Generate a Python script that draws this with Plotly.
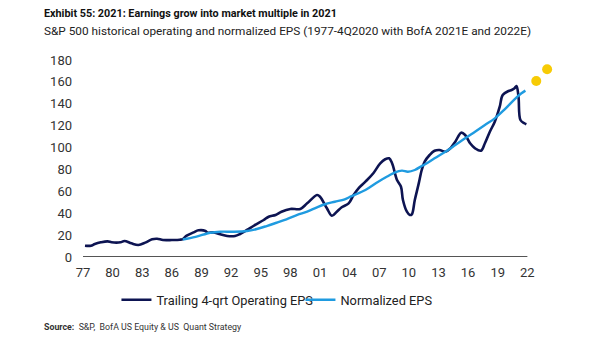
import plotly.graph_objects as go

# ---- data (x in axis-label years, values in EPS $) ----
op_x = [1977.2, 1977.8, 1978.2, 1978.8, 1979.5, 1979.9, 1980.8, 1981.2, 1981.9, 1982.6,
        1983.3, 1984.0, 1984.5, 1985.1, 1986.0, 1986.8, 1987.1, 1987.5, 1988.2, 1988.7,
        1989.4, 1989.6, 1990.2, 1990.9, 1991.6, 1992.4, 1992.9, 1993.6, 1994.4, 1995.3,
        1995.8, 1996.5, 1997.1, 1998.0, 1999.0, 1999.7, 2000.7, 2001.0, 2001.7, 2002.2,
        2002.7, 2003.2, 2003.9, 2004.4, 2004.9, 2005.6, 2006.4, 2007.1, 2007.6, 2008.0,
        2008.3, 2008.8, 2009.2, 2009.4, 2009.8, 2010.1, 2010.3, 2010.6, 2011.0, 2011.3,
        2011.6, 2012.1, 2012.6, 2013.1, 2013.7, 2014.2, 2014.7, 2015.3, 2015.7, 2016.2,
        2016.7, 2017.3, 2017.7, 2018.2, 2018.7, 2019.2, 2019.5, 2020.1, 2020.4, 2020.7,
        2020.9, 2021.1, 2021.3, 2021.7, 2021.9]
op_eps = [10.3, 10.3, 11.9, 13.4, 14.3, 13.4, 13.4, 14.6, 12.5, 11.0,
          13.1, 16.2, 16.7, 15.5, 15.5, 15.8, 16.4, 19.5, 22.5, 24.4,
          23.8, 22.2, 22.5, 20.7, 19.2, 19.2, 21.0, 24.7, 29.2, 33.8,
          36.8, 38.4, 41.4, 43.9, 43.9, 49.0, 56.6, 55.1, 44.5, 37.7,
          41.4, 45.4, 49.0, 56.6, 62.7, 68.8, 76.5, 85.6, 89.3, 90.2,
          85.6, 70.4, 64.2, 52.1, 41.4, 38.4, 39.0, 52.1, 67.3, 79.5,
          87.1, 93.2, 97.1, 97.8, 96.2, 99.3, 105.4, 113.6, 111.5, 103.9,
          99.3, 97.1, 103.9, 114.5, 123.6, 137.3, 148.0, 151.7, 152.6, 154.2,
          156.2, 146.5, 125.2, 122.2, 121.3]

norm_x = [1987.1, 1988.4, 1989.9, 1990.9, 1992.2, 1993.6, 1994.6, 1995.6, 1996.6, 1997.6,
          1998.7, 1999.7, 2000.7, 2001.5, 2002.5, 2003.5, 2004.2, 2005.6, 2006.9, 2007.9,
          2008.6, 2009.3, 2009.9, 2010.6, 2011.3, 2011.6, 2012.6, 2013.7, 2014.7, 2015.7,
          2016.7, 2017.7, 2018.7, 2019.7, 2020.7, 2021.4, 2021.8]
norm_eps = [16.0, 18.4, 22.2, 23.1, 23.1, 23.8, 25.6, 28.3, 31.3, 34.4,
            38.4, 41.4, 45.4, 48.2, 50.5, 52.7, 55.7, 61.2, 68.8, 74.0,
            77.4, 78.9, 77.9, 79.5, 83.1, 84.5, 90.2, 96.2, 102.3, 108.5,
            114.5, 120.6, 126.7, 134.9, 144.1, 149.6, 152.0]

est_x = [2022.9, 2024.0]
est_eps = [160.8, 171.5]

tick_years = list(range(1977, 2023, 3))
tick_text = ["77", "80", "83", "86", "89", "92", "95", "98", "01", "04",
             "07", "10", "13", "16", "19", "22"]
y_ticks = list(range(0, 181, 20))

X_RANGE = [1977, 2025]
W, H = 605, 341
L, T, B = 82.5, 60, 84
R = W - (L + (X_RANGE[1] - X_RANGE[0]) * 9.89)
FONT = "Roboto, Arial, sans-serif"
pw, ph = W - L - R, H - T - B


def px(x):
    return (x - L) / pw


def py(y):
    return (H - B - y) / ph


fig = go.Figure()
fig.add_trace(go.Scatter(x=op_x, y=op_eps, mode="lines", name="Trailing 4-qrt Operating EPS",
                         line=dict(color="#0D1452", width=2.6), line_shape="spline"))
fig.add_trace(go.Scatter(x=norm_x, y=norm_eps, mode="lines", name="Normalized EPS",
                         line=dict(color="#1F9BE0", width=2.4), line_shape="spline"))
fig.add_trace(go.Scatter(x=est_x, y=est_eps, mode="markers", showlegend=False,
                         marker=dict(color="#F7CB05", size=10)))

# x axis baseline spanning the labelled years only
fig.add_shape(type="line", xref="x", yref="y", x0=tick_years[0], x1=tick_years[-1],
              y0=y_ticks[0], y1=y_ticks[0], line=dict(color="#555555", width=2), layer="below")

fig.update_layout(
    width=W, height=H,
    margin=dict(l=L, r=R, t=T, b=B, autoexpand=False),
    paper_bgcolor="white", plot_bgcolor="white",
    font=dict(family=FONT, size=13, color="#333333"),
    showlegend=True,
    legend=dict(orientation="h", x=px(116), y=py(300), xanchor="left", yanchor="middle",
                font=dict(size=12.8, color="#222222"), entrywidth=139,
                itemwidth=30, tracegroupgap=0, bgcolor="rgba(0,0,0,0)"),
    xaxis=dict(range=X_RANGE, tickmode="array", tickvals=tick_years, ticktext=tick_text,
               showgrid=False, zeroline=False, showline=False,
               ticks="", ticklabelstandoff=6, tickfont=dict(size=13, color="#333333"),
               fixedrange=True),
    yaxis=dict(range=[0, 180], tickmode="array", tickvals=y_ticks, showgrid=False,
               zeroline=False, showline=False, ticks="", ticklabelstandoff=10,
               tickfont=dict(size=13, color="#333333"), fixedrange=True),
)

fig.add_annotation(x=px(41), y=py(14), xref="paper", yref="paper", xanchor="left",
                   yanchor="middle", showarrow=False,
                   text="<b>Exhibit 55: 2021: Earnings grow into market multiple in 2021</b>",
                   font=dict(size=10.8, color="#111111", family=FONT))
fig.add_annotation(x=px(41), y=py(31), xref="paper", yref="paper", xanchor="left",
                   yanchor="middle", showarrow=False,
                   text="S&P 500 historical operating and normalized EPS (1977-4Q2020 with BofA 2021E and 2022E)",
                   font=dict(size=11.8, color="#222222", family=FONT))
fig.add_annotation(x=px(41), y=py(327), xref="paper", yref="paper", xanchor="left",
                   yanchor="middle", showarrow=False,
                   text="<b>Source:</b>  S&P,  BofA US Equity & US  Quant Strategy",
                   font=dict(size=8.8, color="#333333", family=FONT))

fig.write_html("out.html")
